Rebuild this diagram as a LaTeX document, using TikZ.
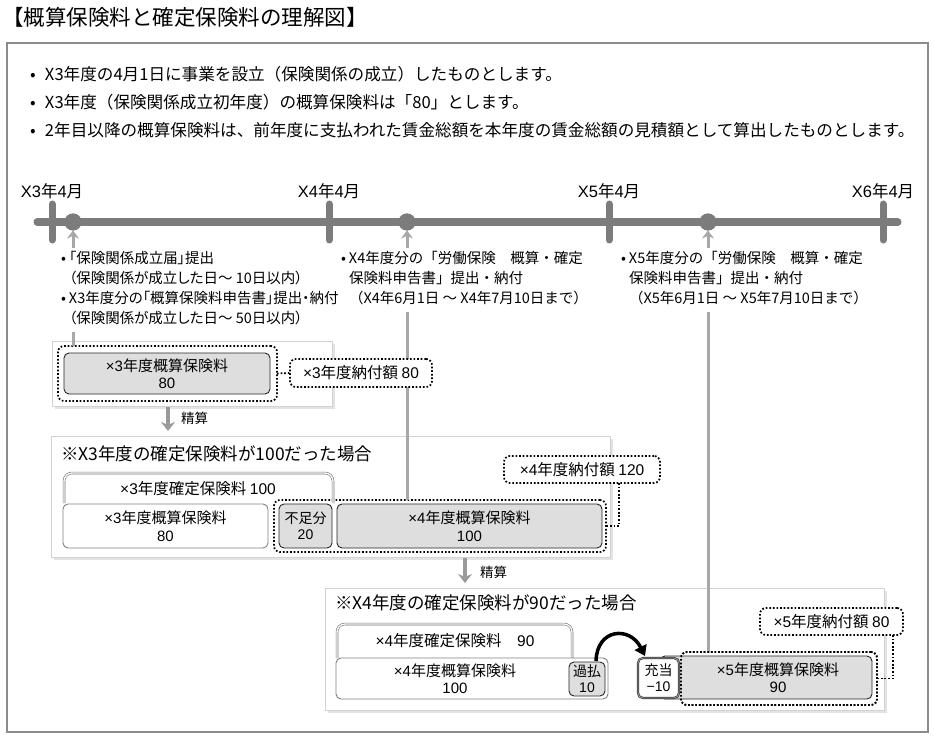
\documentclass[tikz,border=0pt]{standalone}
\usepackage{fontspec}
\setmainfont{Noto Sans CJK JP}
\newfontfamily\jppalt{Noto Sans CJK JP}[RawFeature=+palt]
\newfontfamily\latinfont{Liberation Sans}
\newcommand\lt[1]{{\latinfont #1}}
\usetikzlibrary{arrows.meta,shadows,calc}
\definecolor{tlgray}{HTML}{7C7C7C}
\definecolor{upgray}{HTML}{A8A8A8}
\definecolor{boxgray}{HTML}{DEDEDE}
\definecolor{framegray}{HTML}{8C8C8C}
\definecolor{panelgray}{HTML}{D2D2D2}
\definecolor{seigray}{HTML}{9A9A9A}
\newcommand\mytitlefont{\fontsize{21.5}{24}\selectfont}
\newcommand\mybulfont{\fontsize{16.6}{20}\selectfont}
\newcommand\mynotefont{\fontsize{14.5}{20}\selectfont}
\newcommand\mylabfont{\fontsize{16.5}{18}\selectfont}
\newcommand\myboxfont{\fontsize{15}{17.5}\selectfont}
\newcommand\mypayfont{\fontsize{15.5}{18}\selectfont}
\newcommand\myptfont{\fontsize{17.5}{20}\selectfont}
\newcommand\mysmfont{\fontsize{14}{16}\selectfont}
\newcommand\myseifont{\fontsize{13.5}{15}\selectfont}
\begin{document}
\begin{tikzpicture}[x=1pt,y=-1pt,
  every node/.style={inner sep=0pt, outer sep=0pt},
  frame/.style={draw=framegray, line width=1.4pt, minimum width=921pt, minimum height=689pt},
  panel/.style={draw=panelgray, line width=0.8pt, fill=white,
     drop shadow={shadow xshift=2.5pt, shadow yshift=-3pt, opacity=0.18, fill=black!60}},
  gbox/.style={draw=black!85, line width=0.9pt, fill=boxgray, rounded corners=5pt, align=center, font=\myboxfont},
  wbox/.style={draw=black!50, line width=0.9pt, fill=white, rounded corners=5pt, align=center, font=\myboxfont},
  dbox/.style={draw=black, line width=1.7pt, dash pattern=on 1.7pt off 1.9pt, rounded corners=6pt},
  paybox/.style={dbox, fill=white, font=\mypayfont},
  dconn/.style={draw=black, line width=1.7pt, dash pattern=on 1.7pt off 1.9pt},
  axisline/.style={draw=tlgray, line width=7pt, line cap=round},
  upline/.style={draw=upgray, line width=3pt, -{Stealth[length=8pt,width=12pt]}},
  dotmark/.style={circle, fill=tlgray, minimum size=17pt},
  seisan/.style={draw=seigray, line width=4pt, -{Stealth[length=9pt,width=14pt]}},
  bracket/.style={draw=black!55, line width=0.6pt, double=white, double distance=1.3pt, rounded corners=8pt},
  curved/.style={draw=black, line width=3.5pt, -{Triangle[length=10pt,width=13pt]}},
  note/.style={anchor=base west, fill=white, inner sep=2pt, font=\mynotefont},
  tlabel/.style={anchor=base, font=\mylabfont},
  txt/.style={align=center, font=\myboxfont}
]
\useasboundingbox (0,0) rectangle (934,738);

% frame and title
\node[frame] (frame) at (467.5,387.5) {};
\node[anchor=base west, font=\mytitlefont] (title) at (2,26) {【概算保険料と確定保険料の理解図】};

% bullets
\node[anchor=base west, font=\mybulfont] (bl1) at (30,81) {\makebox[15pt][l]{•}X3年度の4月1日に事業を設立（保険関係の成立）したものとします。};
\node[anchor=base west, font=\mybulfont] (bl2) at (30,109) {\makebox[15pt][l]{•}X3年度（保険関係成立初年度）の概算保険料は「80」とします。};
\node[anchor=base west, font=\mybulfont] (bl3) at (30,137) {\makebox[15pt][l]{•}2年目以降の概算保険料は、前年度に支払われた賃金総額を本年度の賃金総額の見積額として算出したものとします。};

% panels
\node[panel, minimum width=280pt, minimum height=65pt] (p1) at (192,373.5) {};
\node[panel, minimum width=559pt, minimum height=121pt] (p2) at (330.5,496.5) {};
\node[panel, minimum width=559pt, minimum height=122pt] (p3) at (604.5,649) {};

% dotted frames (no fill)
\node[dbox, minimum width=219pt, minimum height=55pt] (o1) at (167.5,373.5) {};
\node[dbox, minimum width=332pt, minimum height=52pt] (o2) at (440,526) {};
\node[dbox, minimum width=196pt, minimum height=53pt] (o3) at (779,678.5) {};

% timeline dots (positions) and up lines (under the boxes)
\node[dotmark] (d1) at (73,222) {};
\node[dotmark] (d2) at (407,222) {};
\node[dotmark] (d3) at (708,222) {};
\draw[upline] (o1.north -| d1) -- (d1.south);
\draw[upline] (o2.north -| d2) -- (d2.south);
\draw[upline] (o3.north -| d3) -- (d3.south);

% panel 1
\node[gbox, minimum width=206pt, minimum height=41pt] (g1) at (167,373.5) {\lt{×3}年度概算保険料\\\lt{80}};
\node[paybox, minimum width=142pt, minimum height=28pt] (pay1) at (361,373) {\lt{×3}年度納付額 \lt{80}};
\draw[dconn] (o1.east) -- (pay1.west);

% seisan 1
\coordinate (s1a) at (168,407);
\coordinate (s1b) at (168,431);
\draw[seisan] (s1a) -- (s1b);
\node[anchor=west, font=\myseifont] (s1l) at (181,418) {精算};

% panel 2
\node[anchor=base west, font=\myptfont] (t2) at (61,460) {※X3年度の確定保険料が100だった場合};
\coordinate (b2a) at (64,503);
\coordinate (b2b) at (333,503);
\draw[bracket] (b2a) -- (64,473) -- (333,473) -- (b2b);
\node[txt, font=\mypayfont] (b2t) at (198,489) {\lt{×3}年度確定保険料 \lt{100}};
\node[wbox, minimum width=205pt, minimum height=44pt] (w2) at (165.5,526) {\lt{×3}年度概算保険料\\\lt{80}};
\node[gbox, minimum width=53pt, minimum height=44pt, font=\mysmfont] (f2) at (305.5,526) {不足分\\\lt{20}};
\node[gbox, minimum width=265pt, minimum height=44pt] (g2) at (469.5,526) {\lt{×4}年度概算保険料\\\lt{100}};
\node[paybox, minimum width=156pt, minimum height=27pt] (pay2) at (582,469.5) {\lt{×4}年度納付額 \lt{120}};
\coordinate (c2) at (619,483);
\draw[dconn] (c2) |- (o2.east);

% seisan 2
\coordinate (s2a) at (465,558);
\coordinate (s2b) at (465,583);
\draw[seisan] (s2a) -- (s2b);
\node[anchor=west, font=\myseifont] (s2l) at (480,572) {精算};

% panel 3
\node[anchor=base west, font=\myptfont] (t3) at (335,609) {※X4年度の確定保険料が90だった場合};
\coordinate (b3a) at (337,658);
\coordinate (b3b) at (572,658);
\draw[bracket] (b3a) -- (337,624) -- (572,624) -- (b3b);
\node[txt, font=\mypayfont] (b3t) at (455,641) {\lt{×4}年度確定保険料\quad\lt{90}};
\node[wbox, minimum width=272pt, minimum height=41pt] (w3) at (472,678.5) {};
\node[txt] (w3t) at (455,678.5) {\lt{×4}年度概算保険料\\\lt{100}};
\node[gbox, minimum width=36pt, minimum height=34pt, font=\mysmfont] (k3) at (587,679) {過払\\\lt{10}};
\node[gbox, minimum width=212pt, minimum height=43pt] (g3) at (766,677.5) {};
\node[txt] (g3t) at (778,677.5) {\lt{×5}年度概算保険料\\\lt{90}};
\node[wbox, draw=black!80, double=black!35, double distance=0.8pt, line width=0.7pt, minimum width=41pt, minimum height=40pt, font=\mysmfont] (j3) at (658.5,678) {充当\\\lt{−10}};
\node[dbox, minimum width=196pt, minimum height=53pt] (o3b) at (o3) {};
\node[paybox, minimum width=143pt, minimum height=27pt] (pay3) at (831.5,621.5) {\lt{×5}年度納付額 \lt{80}};
\coordinate (c3) at (893,635);
\draw[dconn] (c3) |- (o3.east);
\coordinate (ca) at (596,661);
\coordinate (cb) at (645,656);
\draw[curved] (ca) .. controls (597,628) and (630,626) .. (cb);

% notes
\node[note] (n1) at (59,263.5) {\jppalt\begin{tabular}[t]{@{}l@{}}\makebox[8pt][l]{•}「保険関係成立届」提出\\\hspace*{8pt}（保険関係が成立した日～ 10日以内）\\\makebox[8pt][l]{•}X3年度分の「概算保険料申告書」提出・納付\\\hspace*{8pt}（保険関係が成立した日～ 50日以内）\end{tabular}};
\node[note] (n2) at (339,263.5) {\begin{tabular}[t]{@{}l@{}}\makebox[8pt][l]{•}X4年度分の「労働保険　概算・確定\\\hspace*{8pt}保険料申告書」提出・納付\\\hspace*{8pt}（X4年6月1日 ～ X4年7月10日まで）\end{tabular}};
\node[note] (n3) at (619,263.5) {\begin{tabular}[t]{@{}l@{}}\makebox[8pt][l]{•}X5年度分の「労働保険　概算・確定\\\hspace*{8pt}保険料申告書」提出・納付\\\hspace*{8pt}（X5年6月1日 ～ X5年7月10日まで）\end{tabular}};

% timeline
\coordinate (ta) at (37,222);
\coordinate (tb) at (898,222);
\draw[axisline] (ta) -- (tb);
\foreach \xx/\nm in {52/X3, 329/X4, 609/X5, 883/X6}{
  \draw[axisline] (\xx,204) -- (\xx,240);
  \node[tlabel] (lab\nm) at (\xx,197) {\lt{\nm}年\lt{4}月};
}
\node[dotmark] (d1b) at (d1) {};
\node[dotmark] (d2b) at (d2) {};
\node[dotmark] (d3b) at (d3) {};
\end{tikzpicture}
\end{document}
